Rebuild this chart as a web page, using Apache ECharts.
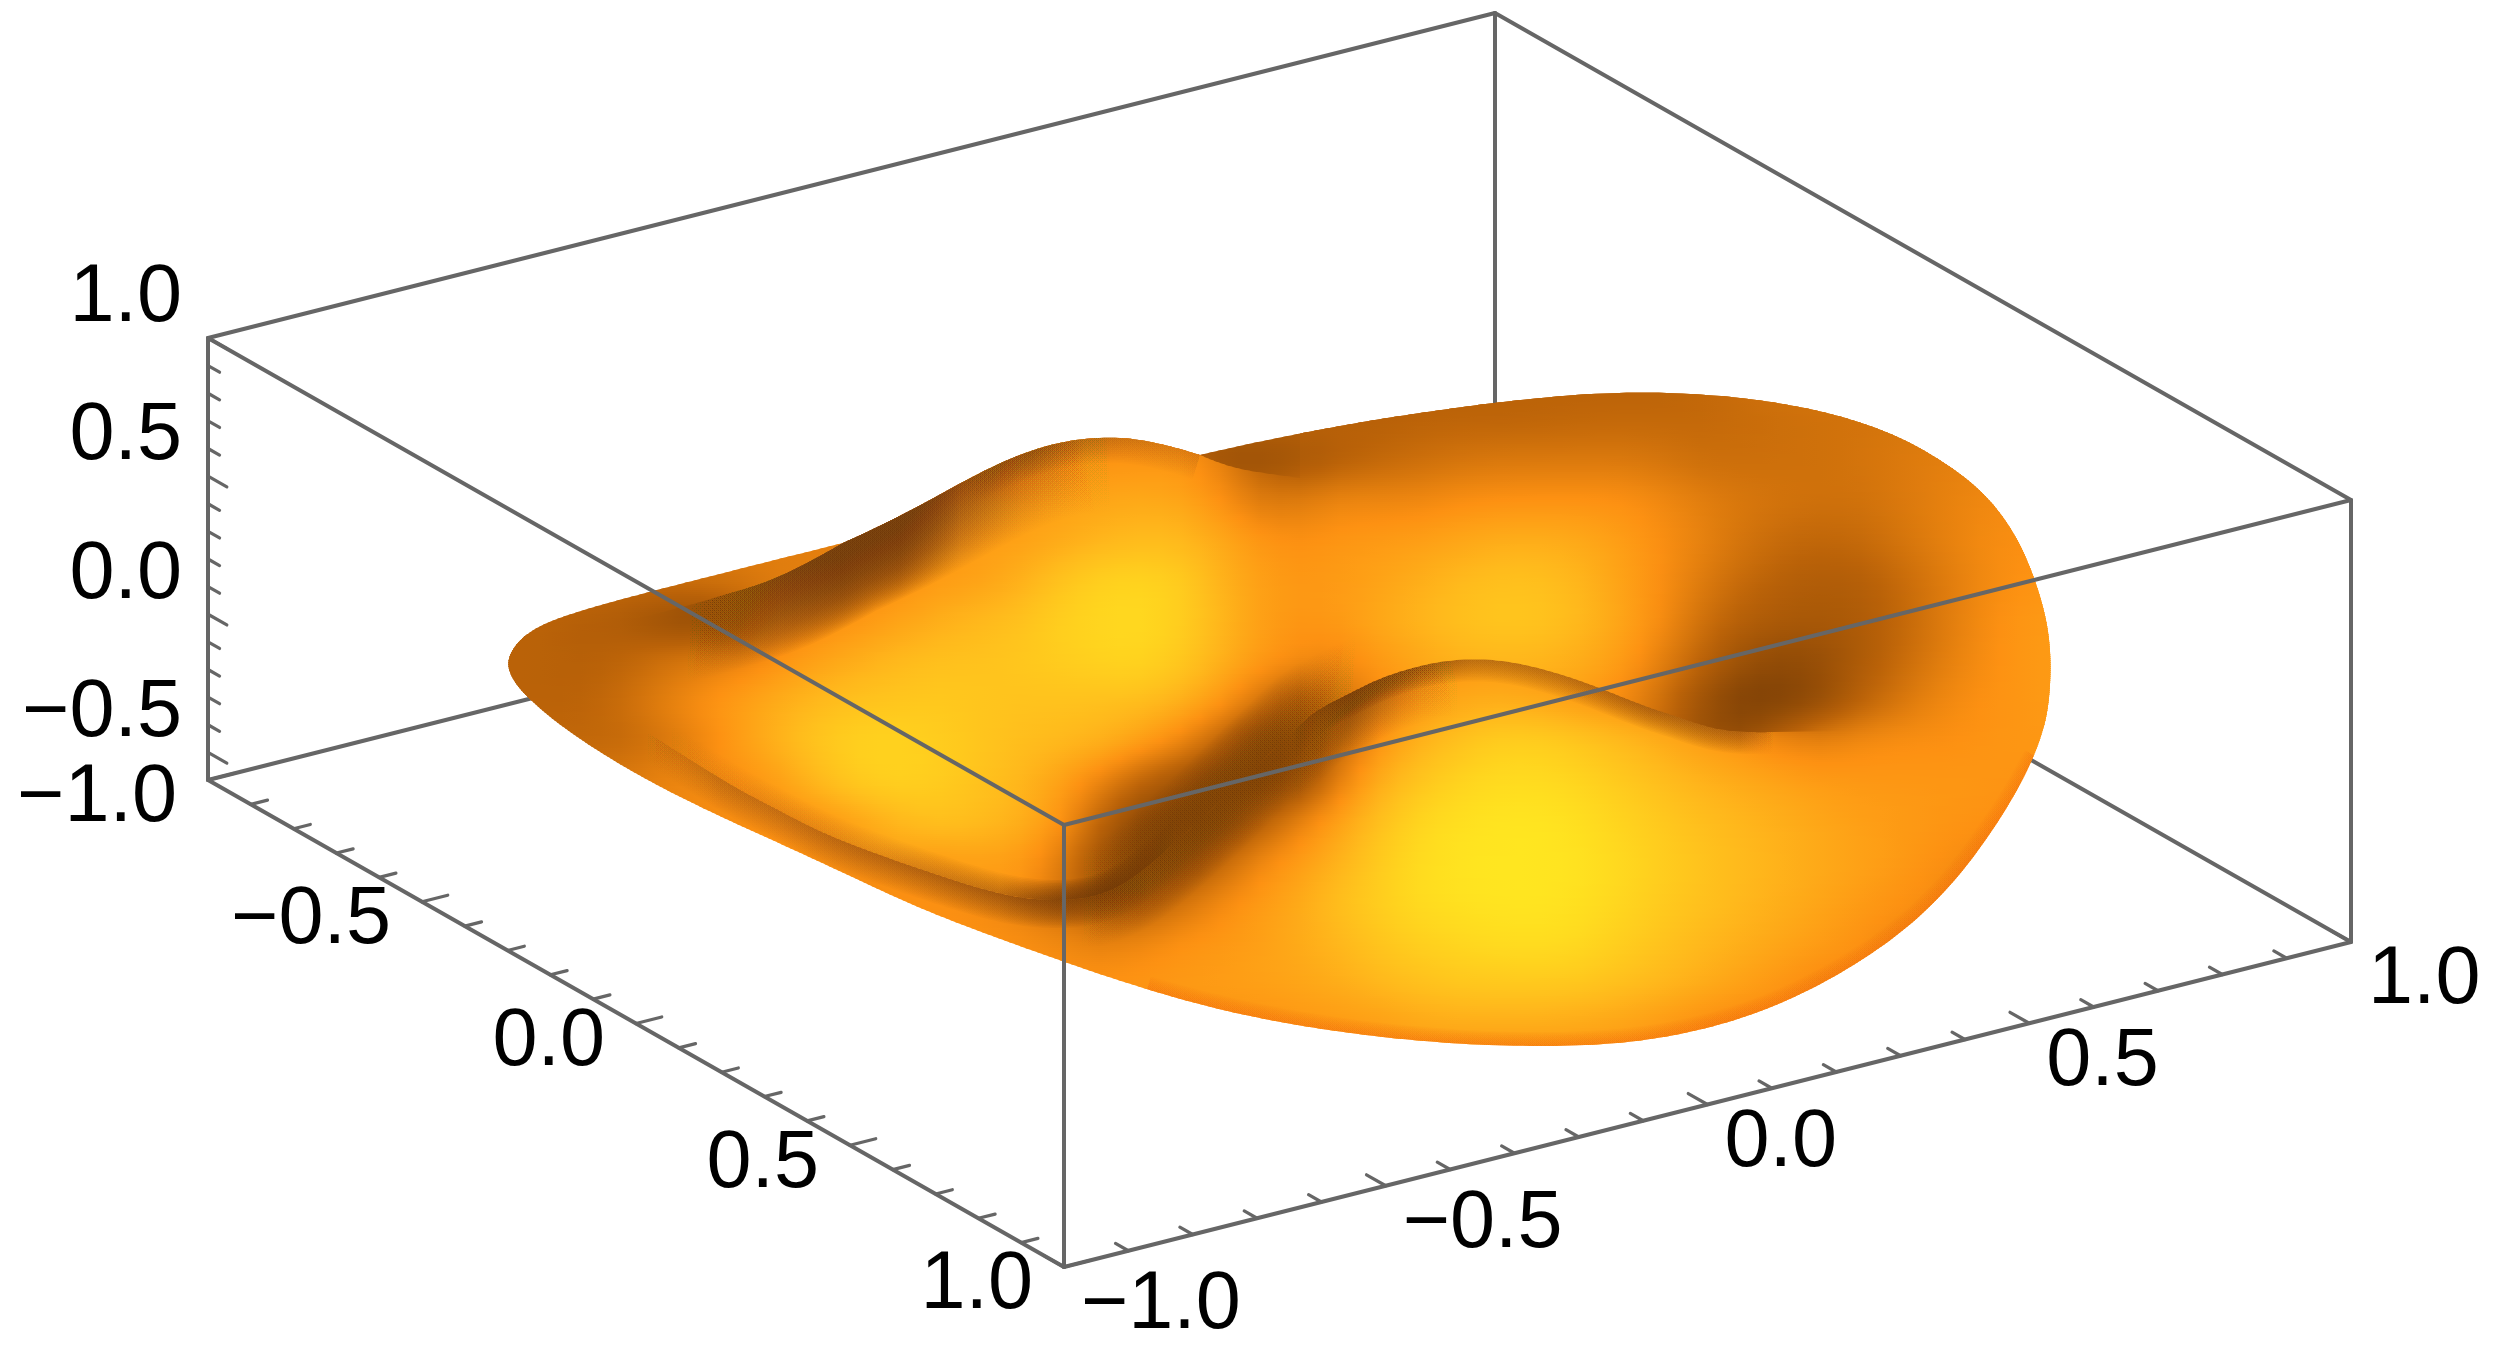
<!DOCTYPE html>
<html><head><meta charset="utf-8">
<style>html,body{margin:0;padding:0;background:#fff}#c{width:2500px;height:1352px}</style>
<script src="https://cdn.jsdelivr.net/npm/echarts@6/dist/echarts.min.js"></script>
</head><body><div id="c"></div>
<script>
// ---- axis values ----
const xLabels=[[-1,'−1.0'],[-0.5,'−0.5'],[0,'0.0'],[0.5,'0.5'],[1,'1.0']];
const yLabels=[[-1,'−1.0'],[-0.5,'−0.5'],[0,'0.0'],[0.5,'0.5'],[1,'1.0']];
const zLabels=[[-0.5,'−0.5'],[0,'0.0'],[0.5,'0.5'],[1,'1.0']];
const xyTicks=[-1,-0.9,-0.8,-0.7,-0.6,-0.5,-0.4,-0.3,-0.2,-0.1,0,0.1,0.2,0.3,0.4,0.5,0.6,0.7,0.8,0.9,1];
const zTicks=[-0.5,-0.4,-0.3,-0.2,-0.1,0,0.1,0.2,0.3,0.4,0.5,0.6,0.7,0.8,0.9,1];
const zRange=[-0.6,1];

// ---- surface as seen in the view plane: sample columns/rows ----
const viewX=[500,540,580,620,660,700,740,780,820,860,900,940,980,1020,1060,1100,1140,1180,1220,1260,1300,1340,1380,1420,1460,1500,1540,1580,1620,1660,1700,1740,1780,1820,1860,1900,1940,1980,2020,2060];
const viewY=[380,420,460,500,540,580,620,660,700,740,780,820,860,900,940,980,1020,1060];
const n=null;
// brightness, 0 = darkest brown, 100 = brightest yellow
const shadeBase=[
[30,30,30,30,30,30,30,30,30,30, 30,30,30,30,30,30,30,30,30,30, 30,30,30,30,30,30,30,30,30,30, 33,36,40,42,44,44,44,44,44,44],
[30,30,30,30,30,30,30,30,30,30, 30,30,30,30,30,30,30,30,30,30, 30,30,28,30,30,30,31,32,33,33, 33,35,36,37,38,40,40,40,40,40],
[30,30,30,30,30,30,30,30,30,30, 30,30,30,30,30,30,30,30,14,14, 16,26,32,36,40,42,42,42,42,40, 36,36,37,38,40,43,46,48,50,50],
[45,45,45,45,45,45,45,45,45,50, 50,52,60,62,64,66,68,66,25,30, 46,52,50,50,54,55,56,56,56,52, 46,42,40,38,38,42,46,50,52,52],
[45,45,45,45,45,45,45,45,45,45, 50,60,60,62,66,72,76,76,68,58, 54,58,60,62,66,70,70,68,62,54, 48,40,34,32,34,40,46,52,54,56],
[35,35,35,35,38,40,42,44,45,50, 54,60,62,70,82,90,92,88,72,62, 58,60,64,70,76,80,80,74,64,54, 44,34,28,25,26,34,42,50,55,58],
[30,30,26,24,12,8,18,48,52,58, 64,70,76,80,88,92,93,88,74,62, 56,60,68,74,80,84,82,76,66,54, 38,28,24,22,24,32,42,52,58,60],
[30,30,28,31,40,46,50,56,64,70, 76,80,80,83,86,90,92,85,72,60, 54,45,45,50,55,55,55,55,52,50, 50,50,20,14,24,34,44,52,58,60],
[30,30,30,36,46,55,62,70,76,80, 82,84,82,80,80,78,78,72,60,42, 20,25,50,60,68,70,66,60,54,50, 50,50,15,8,28,40,50,55,58,60],
[32,32,32,32,38,48,62,74,84,90, 90,86,82,78,76,74,64,52,32,8, 2,35,58,72,80,88,88,84,78,70, 62,56,52,50,54,55,54,56,58,58],
[42,42,42,42,48,50,52,54,54,50, 40,40,40,40,40,40,30,18,5,0, 12,48,70,82,90,94,94,90,84,78, 72,68,64,60,58,58,58,58,56,56],
[52,52,52,52,52,52,52,55,55,52, 40,30,20,12,8,6,8,1,6,28, 50,64,80,92,97,100,100,97,90,84, 78,74,70,66,62,60,58,56,54,54],
[55,55,55,55,55,55,55,55,52,52, 54,54,52,48,40,14,1,14,32,52, 60,72,85,95,99,100,100,98,93,87, 81,76,72,68,64,60,54,50,50,50],
[52,52,52,52,52,52,52,52,52,52, 55,54,52,44,32,14,25,38,52,60, 68,80,88,95,98,100,100,97,92,85, 80,75,70,65,60,56,52,48,48,48],
[55,55,55,55,55,55,55,55,55,55, 55,55,55,55,52,48,50,56,58,62, 68,74,82,88,92,95,96,94,87,81, 75,70,66,62,56,48,48,48,48,48],
[55,55,55,55,55,55,55,55,55,55, 55,55,55,55,56,56,58,60,62,64, 66,70,76,80,84,85,85,84,80,76, 71,65,58,50,50,50,50,50,50,50],
[55,55,55,55,55,55,55,55,55,55, 55,55,55,55,55,55,55,55,55,55, 58,60,62,68,70,70,70,68,65,60, 54,50,50,50,50,50,50,50,50,50],
[55,55,55,55,55,55,55,55,55,55, 55,55,55,55,55,55,55,55,55,55, 55,55,55,55,55,55,55,55,55,55, 50,50,50,50,50,50,50,50,50,50]
];
// where the upper sheet differs from the one it hides (null = same value)
const shadeUpper=[
[n,n,n,n,n,n,n,n,n,n, n,n,n,n,n,n,n,n,n,n, n,n,n,n,n,n,n,n,n,n, n,n,n,n,n,n,n,n,n,n],
[n,n,n,n,n,n,n,n,n,n, n,n,n,n,50,50,50,50,50,40, n,n,n,n,n,n,n,n,n,n, n,n,n,n,n,n,n,n,n,n],
[n,n,n,n,n,n,n,n,n,n, n,n,n,50,52,56,56,58,46,24, n,n,n,n,n,n,n,n,n,n, n,n,n,n,n,n,n,n,n,n],
[n,n,n,n,n,n,n,n,45,n, n,n,n,n,n,n,n,n,56,42, n,n,n,n,n,n,n,n,n,n, n,n,n,n,n,n,n,n,n,n],
[n,n,n,n,n,n,n,n,45,48, n,n,n,n,n,n,n,n,n,n, n,n,n,n,n,n,n,n,n,n, n,n,n,n,n,n,n,n,n,n],
[n,n,n,n,n,18,22,42,46,n, n,n,n,n,n,n,n,n,n,n, n,n,n,n,n,n,n,n,n,n, n,n,n,n,n,n,n,n,n,n],
[n,n,n,n,n,n,n,n,n,n, n,n,n,n,n,n,n,n,n,n, n,n,n,n,n,n,n,n,n,n, n,n,n,n,n,n,n,n,n,n],
[n,n,n,n,n,n,n,n,n,n, n,n,n,n,n,n,n,n,n,n, n,50,60,66,72,74,74,70,62,46, 32,16,10,n,n,n,n,n,n,n],
[n,n,n,n,n,n,n,n,n,n, n,n,n,n,n,n,n,n,n,n, n,38,50,60,66,66,62,58,52,40, 18,3,2,n,n,n,n,n,n,n],
[n,n,n,n,n,n,n,n,n,n, n,n,n,n,n,n,n,n,n,n, n,n,n,n,n,n,n,n,45,28, 10,5,30,n,n,n,n,n,n,n],
[n,n,n,n,n,50,55,62,78,88, 90,86,80,74,62,48,n,n,n,n, n,n,n,n,n,n,n,n,n,n, n,n,n,n,n,n,n,n,n,n],
[n,n,n,n,n,n,50,52,55,64, 76,82,78,72,60,30,n,n,n,n, n,n,n,n,n,n,n,n,n,n, n,n,n,n,n,n,n,n,n,n],
[n,n,n,n,n,n,n,n,55,58, 60,58,62,60,45,18,n,n,n,n, n,n,n,n,n,n,n,n,n,n, n,n,n,n,n,n,n,n,n,n],
[n,n,n,n,n,n,n,n,n,n, 55,55,58,58,40,15,n,n,n,n, n,n,n,n,n,n,n,n,n,n, n,n,n,n,n,n,n,n,n,n],
[n,n,n,n,n,n,n,n,n,n, n,n,n,n,n,n,n,n,n,n, n,n,n,n,n,n,n,n,n,n, n,n,n,n,n,n,n,n,n,n],
[n,n,n,n,n,n,n,n,n,n, n,n,n,n,n,n,n,n,n,n, n,n,n,n,n,n,n,n,n,n, n,n,n,n,n,n,n,n,n,n],
[n,n,n,n,n,n,n,n,n,n, n,n,n,n,n,n,n,n,n,n, n,n,n,n,n,n,n,n,n,n, n,n,n,n,n,n,n,n,n,n],
[n,n,n,n,n,n,n,n,n,n, n,n,n,n,n,n,n,n,n,n, n,n,n,n,n,n,n,n,n,n, n,n,n,n,n,n,n,n,n,n]
];
// silhouette and fold lines of the surface, in the same view-plane units
const edgeHump=[[843,543],[909,512],[971,477],[1038,447],[1100,437],[1150,441],[1200,455]];
const edgeRim=[[1200,455],[1280,437],[1380,418],[1497,402],[1580,394],[1657,391],[1740,397],[1807,407],[1873,425],[1923,448],[1973,482],[2007,517],[2037,577],[2048,630],[2052,663],[2048,713],[2037,757],[1993,833],[1943,897],[1893,940],[1827,983],[1760,1013],[1693,1033],[1627,1043],[1560,1047],[1470,1045],[1380,1038],[1280,1023],[1213,1008],[1147,990],[1063,962],[1013,943],[947,920],[890,895],[823,863],[757,833],[690,803],[623,767],[573,735],[530,702],[510,677],[507,662],[513,647],[530,630],[557,618],[607,603],[657,590],[723,573],[843,543]];
const edgeLower=[[2037,757],[1993,833],[1943,897],[1893,940],[1827,983],[1760,1013],[1693,1033],[1627,1043],[1560,1047],[1470,1045],[1380,1038],[1280,1023],[1213,1008],[1147,990]];
const foldTail=[[620,622],[680,608],[723,595],[767,582],[807,563],[843,543]];
const foldBack=[[1200,455],[1230,467],[1263,473],[1300,478]];
const ridgeHill=[[1773,732],[1740,732],[1707,727],[1673,715],[1647,707],[1600,688],[1557,673],[1513,662],[1473,659],[1430,663],[1380,678],[1347,695],[1313,712]];
const valleyLine=[[1313,712],[1290,735],[1257,765],[1227,795],[1200,820],[1167,850],[1133,878],[1107,892]];
const ridgeLobe=[[1107,892],[1080,899],[1040,900],[997,893],[947,878],[880,855],[823,833],[773,807],[740,790],[707,770],[648,733],[600,700]];
// darkening along the folds: [view x, strength]
const humpSlopeDark=[[680,0],[757,0.7],[843,0.95],[900,0.95],[960,0.7],[1020,0.4],[1080,0.15],[1140,0]];
const humpTopDark=[[960,0],[1030,0.4],[1100,0.35],[1200,0.2]];
const lobeDark=[[650,0],[760,0.15],[880,0.2],[1000,0.4],[1060,0.75],[1107,0.85],[1190,0]];
const bandDark=[[640,0],[720,0.35],[880,0.45],[1000,0.55],[1060,0.7],[1120,0.5],[1190,0]];
const hillRimDark=[[1285,0],[1350,0.8],[1400,0.65],[1473,0.45],[1560,0.45],[1650,0.55],[1740,0.5],[1775,0]];
const hillSlopeDark=[[1285,0],[1350,0.65],[1420,0.25],[1470,0]];
const valleyDark=[[1075,0],[1140,0.5],[1200,0.6],[1260,0.45],[1310,0.2],[1370,0]];
const lowerRimTint=[[1140,0.5],[2040,0.5]];

// ---- rendering helpers ----
function project(a,b,c){
  return [208+(a+1)/2*856+(b+1)/2*1287,
          780+(a+1)/2*487-(b+1)/2*325-(c-zRange[0])/(zRange[1]-zRange[0])*442];
}
function crom(p0,p1,p2,p3,t){
  return 0.5*(2*p1+(p2-p0)*t+(2*p0-5*p1+4*p2-p3)*t*t+(3*p1-p0-3*p2+p3)*t*t*t);
}
function smooth(pts,w){
  if(w===undefined)w=6;
  const out=[];
  for(let i=0;i<pts.length-1;i++){
    const a=pts[Math.max(0,i-1)],b=pts[i],c=pts[i+1],d=pts[Math.min(pts.length-1,i+2)];
    for(let k=0;k<10;k++){const t=k/10;out.push([crom(a[0],b[0],c[0],d[0],t),crom(a[1],b[1],c[1],d[1],t)]);}
  }
  out.push(pts[pts.length-1]);
  const res=[];
  for(let i=0;i<out.length;i++){
    const r=Math.min(w,i,out.length-1-i);let sx=0,sy=0;
    for(let k=-r;k<=r;k++){sx+=out[i+k][0];sy+=out[i+k][1];}
    res.push([sx/(2*r+1),sy/(2*r+1)]);
  }
  return res;
}
const ramp=[[0,118,60,5],[30,186,98,8],[55,253,145,18],[75,255,185,28],[100,255,230,32]];
function shadeColor(s){
  s=Math.max(0,Math.min(100,s));
  for(let i=1;i<ramp.length;i++){
    if(s<=ramp[i][0]){
      const a=ramp[i-1],b=ramp[i],t=(s-a[0])/(b[0]-a[0]);
      return 'rgb('+Math.round(a[1]+(b[1]-a[1])*t)+','+Math.round(a[2]+(b[2]-a[2])*t)+','+Math.round(a[3]+(b[3]-a[3])*t)+')';
    }
  }
  return 'rgb(255,230,32)';
}
function rawCell(layer,j,i){
  j=Math.max(0,Math.min(viewY.length-1,j));i=Math.max(0,Math.min(viewX.length-1,i));
  const up=layer===1?shadeUpper[j][i]:null;
  return up!==null&&up!==undefined?up:shadeBase[j][i];
}
const softened=[null,null];
function softenedGrid(layer){
  if(softened[layer])return softened[layer];
  const k=[1,4,1];
  softened[layer]=viewY.map((_,j)=>viewX.map((_,i)=>{
    let s=0;
    for(let a=-1;a<=1;a++)for(let b=-1;b<=1;b++)s+=k[a+1]*k[b+1]*rawCell(layer,j+a,i+b);
    return s/36;
  }));
  return softened[layer];
}
function cell(layer,j,i){
  j=Math.max(0,Math.min(viewY.length-1,j));i=Math.max(0,Math.min(viewX.length-1,i));
  return softenedGrid(layer)[j][i];
}
function surfaceStrips(layer,api){
  const kids=[];
  const y0=viewY[0],y1=viewY[viewY.length-1],x0=viewX[0],x1=viewX[viewX.length-1];
  const dy=viewY[1]-viewY[0],step=2;
  for(let y=y0;y<y1;y+=step){
    const f=(y-y0)/dy,j=Math.floor(f),t=f-j;
    const col=viewX.map((_,i)=>crom(cell(layer,j-1,i),cell(layer,j,i),cell(layer,j+1,i),cell(layer,j+2,i),t));
    const stops=[];
    for(let i=0;i<col.length;i++){
      stops.push({offset:i/(col.length-1),color:shadeColor(col[i])});
      if(i<col.length-1){
        const m=crom(col[Math.max(0,i-1)],col[i],col[i+1],col[Math.min(col.length-1,i+2)],0.5);
        stops.push({offset:(i+0.5)/(col.length-1),color:shadeColor(m)});
      }
    }
    const a=api.coord([x0,y]),b=api.coord([x1,y+step+1]);
    kids.push({type:'rect',shape:{x:a[0],y:a[1],width:b[0]-a[0],height:b[1]-a[1]},
      style:{fill:{type:'linear',x:a[0],y:0,x2:b[0],y2:0,global:true,colorStops:stops}}});
  }
  return kids;
}
const toPx=(api,pts)=>pts.map(p=>api.coord(p));
// a soft band along a curve: stacked strokes whose opacity follows strength(x)
function softBand(api,curve,halfWidth,strength,rgb){
  const N=Math.max(12,Math.round(halfWidth/1.5)),kids=[];
  const pts=toPx(api,curve);
  const x0=api.coord([strength[0][0],0])[0],x1=api.coord([strength[strength.length-1][0],0])[0];
  const stops=strength.map(s=>({
      offset:(api.coord([s[0],0])[0]-x0)/(x1-x0),
      color:'rgba('+rgb+','+(1-Math.pow(1-s[1],1/N)).toFixed(4)+')'}));
  for(let k=1;k<=N;k++){
    kids.push({type:'polyline',shape:{points:pts},style:{fill:null,lineJoin:'round',lineWidth:2*halfWidth*k/N,
      stroke:{type:'linear',x:x0,y:0,x2:x1,y2:0,global:true,colorStops:stops}}});
  }
  return kids;
}
const DARK='112,56,5';
function creaseCurve(){return smooth(valleyLine.slice(3).concat(ridgeLobe.slice(1)));}
function valleyCurve(){return smooth(ridgeHill.slice(6).concat(valleyLine.slice(1),ridgeLobe.slice(1,6)));}
function hillCurve(){return smooth(ridgeHill.concat(valleyLine.slice(1,4)));}
function lowerSheetKids(api){
  return surfaceStrips(0,api).concat(
    softBand(api,valleyCurve(),50,valleyDark,DARK),
    softBand(api,creaseCurve(),28,bandDark,DARK),
    softBand(api,hillCurve(),22,hillRimDark,DARK),
    softBand(api,hillCurve(),55,hillSlopeDark,DARK),
    softBand(api,smooth(edgeLower,10),14,lowerRimTint,'240,110,10'));
}
function upperSheetKids(api){
  const crest=smooth(foldTail).concat(smooth(edgeHump));
  return surfaceStrips(1,api).concat(
    softBand(api,valleyCurve(),50,valleyDark,DARK),
    softBand(api,crest,75,humpSlopeDark,DARK),
    softBand(api,crest,25,humpTopDark,DARK),
    softBand(api,creaseCurve(),20,lobeDark,DARK));
}
function silhouette(){return smooth(edgeHump).concat(smooth(edgeRim,10));}
function upperOutline(){
  return [[480,700],[480,640]].concat(smooth(foldTail),[[840,400],[1180,400]],smooth(foldBack),[[1300,380],[2100,380],[2100,727]],
    smooth(ridgeHill.concat(valleyLine.slice(1),ridgeLobe.slice(1))));
}

// ---- box edges and ticks as data: a1,b1,c1,a2,b2,c2 ----
const zLo=zRange[0],zHi=zRange[1];
const backEdges=[[-1,-1,zLo,-1,1,zLo],[-1,1,zLo,1,1,zLo],[-1,1,zLo,-1,1,zHi]];
const frontEdges=[
 [-1,-1,zLo,1,-1,zLo],[1,-1,zLo,1,1,zLo],[-1,-1,zLo,-1,-1,zHi],[1,-1,zLo,1,-1,zHi],[1,1,zLo,1,1,zHi],
 [-1,-1,zHi,1,-1,zHi],[1,-1,zHi,1,1,zHi],[-1,-1,zHi,-1,1,zHi],[-1,1,zHi,1,1,zHi]];
const isMajor=v=>Math.abs(v*2-Math.round(v*2))<1e-6;
const tickSegs=[];
xyTicks.forEach(v=>{tickSegs.push([v,-1,zLo,v,-1+(isMajor(v)?0.04:0.026),zLo]);});
xyTicks.forEach(v=>{tickSegs.push([1,v,zLo,1-(isMajor(v)?0.045:0.03),v,zLo]);});
zTicks.forEach(v=>{tickSegs.push([-1,-1,v,-1+(isMajor(v)?0.044:0.027),-1,v]);});
const LINE='#666666';
function lineItem(width){
  return function(params,api){
    const p=api.coord(project(api.value(0),api.value(1),api.value(2)));
    const q=api.coord(project(api.value(3),api.value(4),api.value(5)));
    return {type:'line',shape:{x1:p[0],y1:p[1],x2:q[0],y2:q[1]},style:{stroke:LINE,lineWidth:width,lineCap:'round',fill:null}};
  };
}
// ---- tick labels ----
const labelRows=[];
xLabels.forEach(l=>labelRows.push({v:[l[0],-1,zLo],t:l[1],al:'right',dx:-31,dy:19}));
yLabels.forEach(l=>labelRows.push({v:[1,l[0],zLo],t:l[1],al:'left',dx:17,dy:39}));
zLabels.forEach(l=>labelRows.push({v:[-1,-1,l[0]],t:l[1],al:'right',dx:-26,dy:-39}));

const chart=echarts.init(document.getElementById('c'),null,{renderer:'canvas',width:2500,height:1352});
chart.setOption({
  animation:false,
  backgroundColor:'#ffffff',
  grid:{left:0,right:0,top:0,bottom:0},
  xAxis:{type:'value',min:0,max:2500,show:false},
  yAxis:{type:'value',min:0,max:1352,inverse:true,show:false},
  series:[
   {type:'custom',name:'back edges',z:1,silent:true,data:backEdges,renderItem:lineItem(4)},
   {type:'custom',name:'surface',z:2,silent:true,data:[[0],[1]],
    renderItem:function(params,api){
      const layer=params.dataIndex;
      const inner=layer===1
        ?{type:'group',clipPath:{type:'polygon',shape:{points:toPx(api,upperOutline())}},children:upperSheetKids(api)}
        :{type:'group',children:lowerSheetKids(api)};
      return {type:'group',clipPath:{type:'polygon',shape:{points:toPx(api,silhouette())}},children:[inner]};
    }},
   {type:'custom',name:'front edges',z:3,silent:true,data:frontEdges,renderItem:lineItem(4)},
   {type:'custom',name:'ticks',z:3,silent:true,data:tickSegs,renderItem:lineItem(3.2)},
   {type:'custom',name:'tick labels',z:4,silent:true,data:labelRows.map(r=>r.v),
    renderItem:function(params,api){
      const r=labelRows[params.dataIndex];
      const p=api.coord(project(api.value(0),api.value(1),api.value(2)));
      return {type:'text',style:{x:p[0]+r.dx,y:p[1]+r.dy,text:r.t,fill:'#000',
        font:"81px 'Liberation Sans', Arial, sans-serif",align:r.al,verticalAlign:'middle'}};
    }}
  ]
});
</script></body></html>
